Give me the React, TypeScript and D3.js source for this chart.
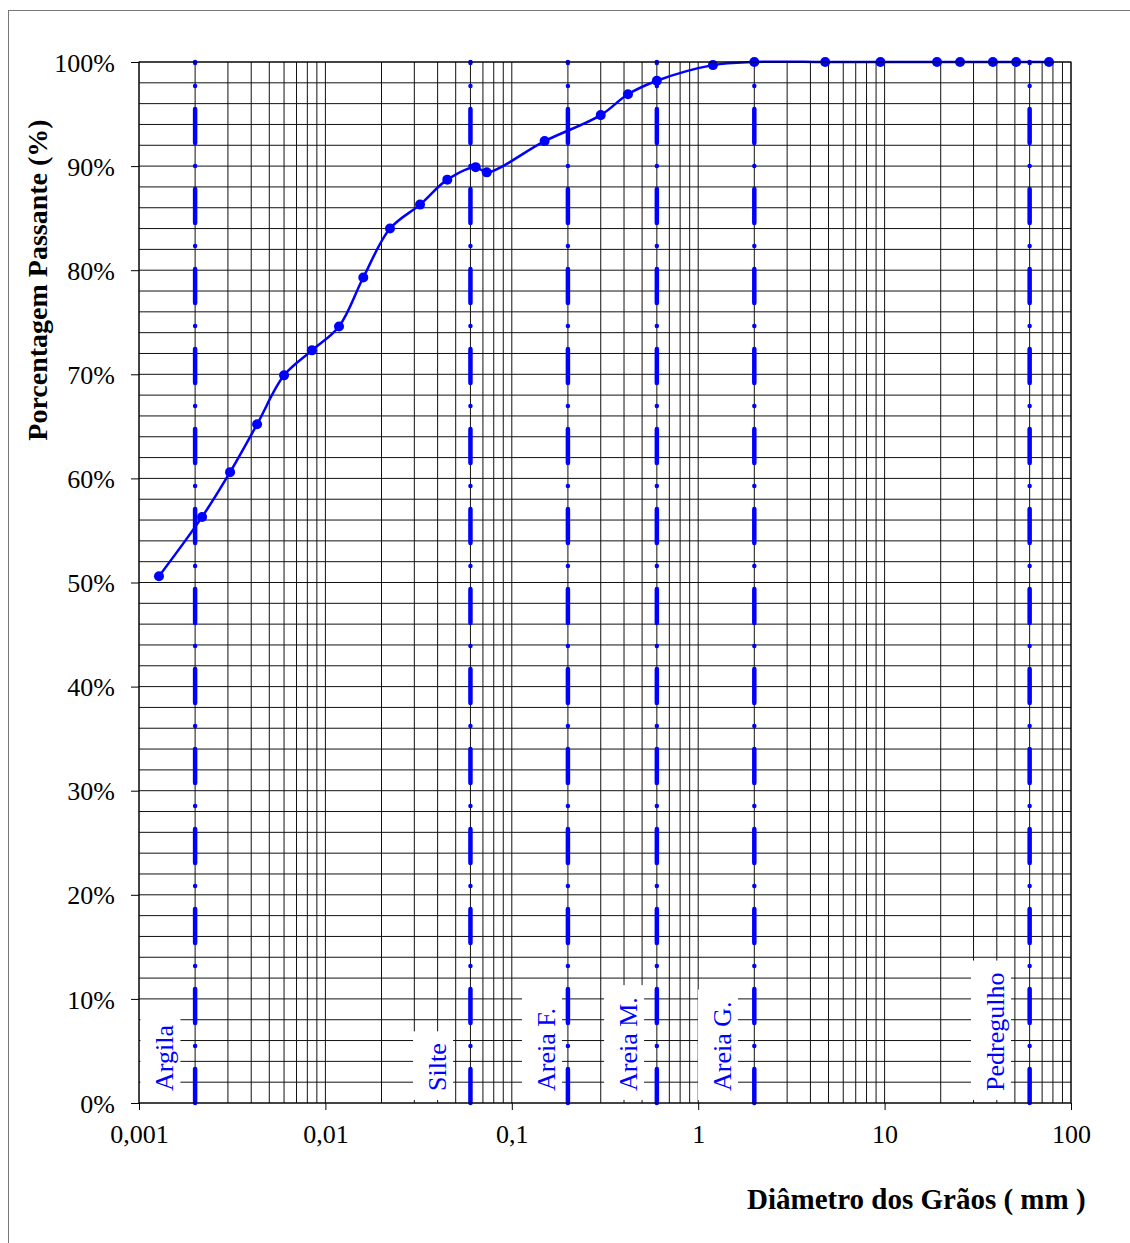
import React, { useEffect, useRef } from 'react';
import * as d3 from 'd3';

// grain-size curve (diameter in mm, % passing)
const diameters = [
  0.00128, 0.00218, 0.00308, 0.0043, 0.006, 0.00847, 0.01183, 0.01597, 0.02221,
  0.03218, 0.04508, 0.064, 0.0734, 0.15, 0.3, 0.42, 0.6, 1.2, 2.0, 4.8, 9.5,
  19.1, 25.4, 38.1, 50.8, 76.2,
];
const passing = [
  50.6, 56.3, 60.6, 65.2, 69.9, 72.3, 74.6, 79.3, 84.0, 86.3, 88.7, 89.9, 89.4,
  92.4, 94.9, 96.9, 98.2, 99.7, 100, 100, 100, 100, 100, 100, 100, 100,
];

// class boundaries and their labels
const boundaries = [0.002, 0.06, 0.2, 0.6, 2, 60];
const zoneNames = ['Argila', 'Silte', 'Areia F.', 'Areia M.', 'Areia G.', 'Pedregulho'];
const zoneLabelAt = [0.00153, 0.0444, 0.1705, 0.47, 1.5, 43.7];

const xTicks = [0.001, 0.01, 0.1, 1, 10, 100];
const xTickLabels = ['0,001', '0,01', '0,1', '1', '10', '100'];
const yTicks = [0, 10, 20, 30, 40, 50, 60, 70, 80, 90, 100];

const SERIF = "'Liberation Serif', 'Times New Roman', serif";
const BLUE = '#0000FF';

function GranulometryChart() {
  const svgRef = useRef<SVGSVGElement | null>(null);

  useEffect(() => {
    if (!svgRef.current) return;
    const width = 1130;
    const height = 1243;
    const margin = { top: 62, right: 59, bottom: 140, left: 139 };
    const innerW = width - margin.left - margin.right;
    const innerH = height - margin.top - margin.bottom;

    const root = d3.select(svgRef.current);
    root.selectAll('*').remove();

    // outer frame (right and bottom edges run off the picture)
    root.append('rect')
      .attr('x', 8.5).attr('y', 10.5)
      .attr('width', 1200).attr('height', 1300)
      .attr('fill', 'none').attr('stroke', '#777').attr('stroke-width', 1);

    const svg = root.append('g').attr('transform', `translate(${margin.left},${margin.top})`);

    const x = d3.scaleLog().domain([0.001, 100]).range([0, innerW]);
    const y = d3.scaleLinear().domain([0, 100]).range([innerH, 0]);

    // log grid
    const xGrid: number[] = [];
    [0.001, 0.01, 0.1, 1, 10].forEach((dec) => {
      for (let k = 1; k <= 9; k++) xGrid.push(+(k * dec).toPrecision(3));
    });
    xGrid.push(100);
    const yGrid = d3.range(0, 101, 2);

    svg.append('g').selectAll('line')
      .data(xGrid).join('line')
      .attr('x1', (d) => x(d)).attr('x2', (d) => x(d))
      .attr('y1', 0).attr('y2', innerH)
      .attr('stroke', '#111').attr('stroke-width', 1);

    svg.append('g').selectAll('line')
      .data(yGrid).join('line')
      .attr('x1', 0).attr('x2', innerW)
      .attr('y1', (d) => y(d)).attr('y2', (d) => y(d))
      .attr('stroke', '#111').attr('stroke-width', 1);

    // zone labels with white boxes
    const labelY = innerH - 12;
    zoneNames.forEach((name, i) => {
      const g = svg.append('g')
        .attr('transform', `translate(${x(zoneLabelAt[i])},${labelY}) rotate(-90)`);
      const box = g.append('rect').attr('fill', '#fff');
      const t = g.append('text')
        .attr('x', 0).attr('y', 0)
        .attr('font-family', SERIF).attr('font-size', 26)
        .attr('fill', BLUE)
        .text(name);
      const len = (t.node() as SVGTextElement).getComputedTextLength();
      box.attr('x', -9).attr('y', -33).attr('width', len + 21).attr('height', 40);
    });

    // boundary lines (dash-dot)
    svg.append('g').selectAll('line')
      .data(boundaries).join('line')
      .attr('x1', (d) => x(d)).attr('x2', (d) => x(d))
      .attr('y1', y(0)).attr('y2', y(100))
      .attr('stroke', BLUE).attr('stroke-width', 4.5)
      .attr('stroke-linecap', 'round')
      .attr('stroke-dasharray', '34 23 0 23');

    // curve
    const pts = diameters.map((d, i) => [x(d), y(passing[i])] as [number, number]);
    const line = d3.line().curve(d3.curveCatmullRom.alpha(0.5));
    svg.append('path')
      .attr('d', line(pts) as string)
      .attr('fill', 'none').attr('stroke', BLUE).attr('stroke-width', 2.5);

    svg.append('g').selectAll('circle')
      .data(pts).join('circle')
      .attr('cx', (d) => d[0]).attr('cy', (d) => d[1])
      .attr('r', 5).attr('fill', BLUE);

    // plot border
    svg.append('rect')
      .attr('x', 0).attr('y', 0).attr('width', innerW).attr('height', innerH)
      .attr('fill', 'none').attr('stroke', '#000').attr('stroke-width', 1);

    // axes
    const xAxis = svg.append('g')
      .attr('transform', `translate(0,${innerH})`)
      .call(d3.axisBottom(x).tickValues(xTicks)
        .tickFormat((_d, i) => xTickLabels[i]).tickSize(7).tickSizeOuter(0));
    xAxis.select('.domain').remove();
    xAxis.selectAll('line').attr('stroke', '#000');
    xAxis.selectAll('text')
      .attr('y', 22)
      .attr('font-family', SERIF).attr('font-size', 26).attr('fill', '#000');

    const yAxis = svg.append('g')
      .call(d3.axisLeft(y).tickValues(yTicks)
        .tickFormat((d) => `${d}%`).tickSize(8).tickSizeOuter(0));
    yAxis.select('.domain').remove();
    yAxis.selectAll('line').attr('stroke', '#000');
    yAxis.selectAll('text')
      .attr('x', -24).attr('dy', '0.35em')
      .attr('font-family', SERIF).attr('font-size', 26).attr('fill', '#000');

    // titles
    root.append('text')
      .attr('transform', 'translate(47,280) rotate(-90)')
      .attr('text-anchor', 'middle')
      .attr('font-family', SERIF).attr('font-size', 28).attr('font-weight', 'bold')
      .text('Porcentagem Passante (%)');

    root.append('text')
      .attr('x', 747).attr('y', 1209)
      .attr('font-family', SERIF).attr('font-size', 29).attr('font-weight', 'bold')
      .text('Diâmetro dos Grãos ( mm )');
  }, []);

  return (
    <svg
      ref={svgRef}
      width={1130}
      height={1243}
      style={{ position: 'absolute', left: 0, top: 0, display: 'block', background: '#fff' }}
    />
  );
}

export default function App() {
  return <GranulometryChart />;
}
